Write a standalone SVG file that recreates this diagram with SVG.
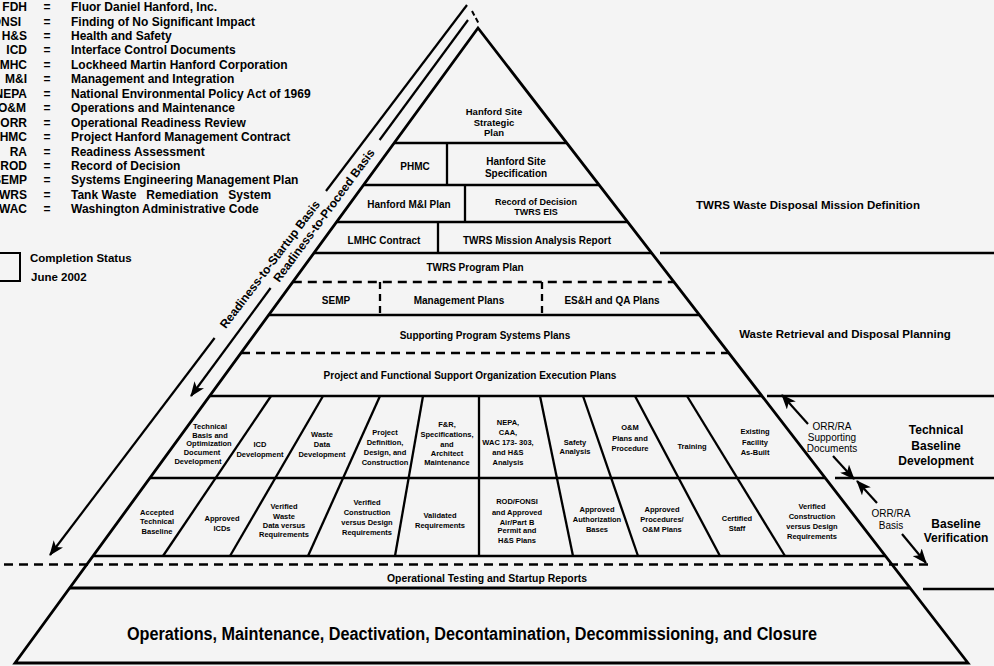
<svg xmlns="http://www.w3.org/2000/svg" width="994" height="666" viewBox="0 0 994 666">
<defs>
<marker id="ah" markerUnits="userSpaceOnUse" markerWidth="16" markerHeight="12" refX="14" refY="6" orient="auto">
<path d="M0,0 L15,6 L0,12 L4,6 z" fill="#000"/>
</marker>
<style>
.ln{stroke:#000;stroke-width:2.3;fill:none}
.thick{stroke:#000;stroke-width:3;fill:none}
.dash{stroke-dasharray:9 6}
.t{font-family:"Liberation Sans",Arial,Helvetica,sans-serif;font-weight:bold;fill:#000;text-anchor:middle}
.n{font-family:"Liberation Sans Narrow","Liberation Sans",Arial,sans-serif}
.c{font-size:7.5px}
.m{font-size:10px}
.leg{font-size:12px;text-anchor:start}
.ab{font-size:12px;text-anchor:end}
.eq{font-size:12px}
.r{font-weight:normal;font-size:10px}
.conn{stroke:#000;stroke-width:2.2;fill:none}
</style>
</defs>
<rect x="0" y="0" width="994" height="666" fill="#f4f4f4"/>

<g id="legend">
<text class="t ab" x="27" y="11">FDH</text><text class="t eq" x="47" y="11">=</text><text class="t leg" x="71" y="11">Fluor Daniel Hanford, Inc.</text>
<text class="t ab" x="21" y="25.5">FONSI</text><text class="t eq" x="47" y="25.5">=</text><text class="t leg" x="71" y="25.5">Finding of No Significant Impact</text>
<text class="t ab" x="27" y="40">H&amp;S</text><text class="t eq" x="47" y="40">=</text><text class="t leg" x="71" y="40">Health and Safety</text>
<text class="t ab" x="27" y="54.4">ICD</text><text class="t eq" x="47" y="54.4">=</text><text class="t leg" x="71" y="54.4">Interface Control Documents</text>
<text class="t ab" x="27" y="68.8">LMHC</text><text class="t eq" x="47" y="68.8">=</text><text class="t leg" x="71" y="68.8">Lockheed Martin Hanford Corporation</text>
<text class="t ab" x="27" y="83.3">M&amp;I</text><text class="t eq" x="47" y="83.3">=</text><text class="t leg" x="71" y="83.3">Management and Integration</text>
<text class="t ab" x="27" y="97.7">NEPA</text><text class="t eq" x="47" y="97.7">=</text><text class="t leg" x="71" y="97.7">National Environmental Policy Act of 1969</text>
<text class="t ab" x="26" y="112.2">O&amp;M</text><text class="t eq" x="47" y="112.2">=</text><text class="t leg" x="71" y="112.2">Operations and Maintenance</text>
<text class="t ab" x="27" y="126.6">ORR</text><text class="t eq" x="47" y="126.6">=</text><text class="t leg" x="71" y="126.6">Operational Readiness Review</text>
<text class="t ab" x="27" y="141.1">PHMC</text><text class="t eq" x="47" y="141.1">=</text><text class="t leg" x="71" y="141.1">Project Hanford Management Contract</text>
<text class="t ab" x="27" y="155.5">RA</text><text class="t eq" x="47" y="155.5">=</text><text class="t leg" x="71" y="155.5">Readiness Assessment</text>
<text class="t ab" x="27" y="170">ROD</text><text class="t eq" x="47" y="170">=</text><text class="t leg" x="71" y="170">Record of Decision</text>
<text class="t ab" x="27" y="184.4">SEMP</text><text class="t eq" x="47" y="184.4">=</text><text class="t leg" x="71" y="184.4">Systems Engineering Management Plan</text>
<text class="t ab" x="27" y="198.9">TWRS</text><text class="t eq" x="47" y="198.9">=</text><text class="t leg" x="71" y="198.9" style="white-space:pre">Tank Waste   Remediation   System</text>
<text class="t ab" x="27" y="213.3">WAC</text><text class="t eq" x="47" y="213.3">=</text><text class="t leg" x="71" y="213.3">Washington Administrative Code</text>
</g>

<g id="completion-status">
<rect x="-12" y="253" width="32" height="28" fill="none" stroke="#000" stroke-width="2"/>
<text class="t" style="font-size:11.5px;text-anchor:start" x="30" y="262">Completion Status</text>
<text class="t" style="font-size:11.5px;text-anchor:start" x="31" y="281">June 2002</text>
</g>

<g id="pyramid-frame">
<polygon points="478,28 968,663 15,663" fill="none" stroke="#000" stroke-width="2.8" stroke-linejoin="miter"/>
<line class="ln" x1="394.2" y1="143" x2="566.7" y2="143"/>
<line class="ln" x1="363.5" y1="185" x2="599.2" y2="185"/>
<line class="ln" x1="336.6" y1="222" x2="627.7" y2="222"/>
<line class="ln" x1="314" y1="253" x2="651.6" y2="253"/>
<line class="ln dash" x1="292.8" y1="282" x2="674" y2="282"/>
<line class="ln" x1="268.7" y1="315" x2="699.5" y2="315"/>
<line class="ln dash" x1="241" y1="353" x2="728.8" y2="353"/>
<line class="ln" x1="209.7" y1="396" x2="762" y2="396"/>
<line class="ln" x1="149.9" y1="478" x2="825.3" y2="478"/>
<line class="ln" x1="93" y1="556" x2="885.5" y2="556"/>
<line class="ln dash" x1="4" y1="564.5" x2="934" y2="564.5"/>
<line class="thick" x1="69.7" y1="588" x2="910.2" y2="588"/>
<line class="ln" x1="447" y1="143" x2="447" y2="185"/>
<line class="ln" x1="465" y1="185" x2="465" y2="222"/>
<line class="ln" x1="438" y1="222" x2="438" y2="253"/>
<line class="ln dash" x1="380" y1="282" x2="380" y2="315" style="stroke-dasharray:7 5"/>
<line class="ln dash" x1="542" y1="282" x2="542" y2="315" style="stroke-dasharray:7 5"/>
<line class="ln" x1="271" y1="396" x2="163" y2="556"/>
<line class="ln" x1="323" y1="396" x2="230" y2="556"/>
<line class="ln" x1="380" y1="396" x2="308" y2="556"/>
<line class="ln" x1="423" y1="396" x2="395" y2="556"/>
<line class="ln" x1="479" y1="396" x2="479" y2="556"/>
<line class="ln" x1="540" y1="396" x2="573" y2="556"/>
<line class="ln" x1="583" y1="396" x2="638" y2="556"/>
<line class="ln" x1="635" y1="396" x2="720" y2="556"/>
<line class="ln" x1="687" y1="396" x2="785" y2="556"/>
<line class="ln" x1="660" y1="253" x2="994" y2="253"/>
<line class="ln" x1="767" y1="396" x2="994" y2="396"/>
<line class="ln" x1="835" y1="478" x2="994" y2="478"/>
<line class="ln" x1="923" y1="589" x2="994" y2="589"/>
<line x1="472" y1="11" x2="479" y2="24" stroke="#000" stroke-width="2" stroke-dasharray="5 3"/>
</g>

<g id="n-strategic"><text class="t" style="font-size:9.5px"><tspan x="494" y="115">Hanford Site</tspan><tspan x="494" y="125.5">Strategic</tspan><tspan x="494" y="136">Plan</tspan></text></g>
<g id="n-phmc"><text class="t m" x="415" y="169.5">PHMC</text></g>
<g id="n-site-spec"><text class="t m"><tspan x="516" y="164.5">Hanford Site</tspan><tspan x="516" y="177">Specification</tspan></text></g>
<g id="n-mi-plan"><text class="t m" x="409" y="207.5">Hanford M&amp;I Plan</text></g>
<g id="n-rod"><text class="t" style="font-size:9px"><tspan x="536" y="205">Record of Decision</tspan><tspan x="536" y="215">TWRS EIS</tspan></text></g>
<g id="n-lmhc"><text class="t m" x="384" y="243.5">LMHC Contract</text></g>
<g id="n-mar"><text class="t m" x="537" y="243.5">TWRS Mission Analysis Report</text></g>
<g id="n-program"><text class="t m" x="475" y="270.5">TWRS Program Plan</text></g>
<g id="n-semp"><text class="t m" x="336" y="304">SEMP</text></g>
<g id="n-mgmt"><text class="t m" x="459" y="304">Management Plans</text></g>
<g id="n-esh"><text class="t m" x="612" y="304">ES&amp;H and QA Plans</text></g>
<g id="n-supporting"><text class="t m" x="485" y="338.5">Supporting Program Systems Plans</text></g>
<g id="n-execution"><text class="t m" x="470" y="378.5">Project and Functional Support Organization Execution Plans</text></g>

<g id="n-tech-basis"><text class="t c"><tspan x="210" y="429">Technical</tspan><tspan x="210" y="437.5">Basis and</tspan><tspan x="209" y="446">Optimization</tspan><tspan x="202" y="454.5">Document</tspan><tspan x="198" y="463.5">Development</tspan></text></g>
<g id="n-icd-dev"><text class="t c"><tspan x="260" y="447">ICD</tspan><tspan x="260" y="457">Development</tspan></text></g>
<g id="n-waste-dev"><text class="t c"><tspan x="322" y="437">Waste</tspan><tspan x="322" y="447">Data</tspan><tspan x="322" y="457">Development</tspan></text></g>
<g id="n-project-def"><text class="t c"><tspan x="385" y="435">Project</tspan><tspan x="385" y="445">Definition,</tspan><tspan x="385" y="455">Design, and</tspan><tspan x="385" y="465">Construction</tspan></text></g>
<g id="n-fr"><text class="t c"><tspan x="447" y="427">F&amp;R,</tspan><tspan x="447" y="437">Specifications,</tspan><tspan x="447" y="447">and</tspan><tspan x="447" y="456">Architect</tspan><tspan x="447" y="465">Maintenance</tspan></text></g>
<g id="n-nepa"><text class="t c"><tspan x="508" y="425">NEPA,</tspan><tspan x="508" y="435">CAA,</tspan><tspan x="508" y="445">WAC 173- 303,</tspan><tspan x="508" y="455">and H&amp;S</tspan><tspan x="508" y="465">Analysis</tspan></text></g>
<g id="n-safety"><text class="t c"><tspan x="575" y="445">Safety</tspan><tspan x="575" y="454">Analysis</tspan></text></g>
<g id="n-om-plans"><text class="t c"><tspan x="630" y="430">O&amp;M</tspan><tspan x="630" y="441">Plans and</tspan><tspan x="630" y="451">Procedure</tspan></text></g>
<g id="n-training"><text class="t c" x="692" y="449">Training</text></g>
<g id="n-existing"><text class="t c"><tspan x="755" y="434">Existing</tspan><tspan x="755" y="445">Facility</tspan><tspan x="755" y="455">As-Built</tspan></text></g>

<g id="n-accepted"><text class="t c"><tspan x="157" y="515">Accepted</tspan><tspan x="157" y="524">Technical</tspan><tspan x="157" y="534">Baseline</tspan></text></g>
<g id="n-approved-icds"><text class="t c"><tspan x="222" y="521">Approved</tspan><tspan x="222" y="531">ICDs</tspan></text></g>
<g id="n-verified-waste"><text class="t c"><tspan x="284" y="509">Verified</tspan><tspan x="284" y="519">Waste</tspan><tspan x="284" y="528">Data versus</tspan><tspan x="284" y="537">Requirements</tspan></text></g>
<g id="n-verified-const1"><text class="t c"><tspan x="367" y="505">Verified</tspan><tspan x="367" y="515">Construction</tspan><tspan x="367" y="525">versus Design</tspan><tspan x="367" y="535">Requirements</tspan></text></g>
<g id="n-validated"><text class="t c"><tspan x="440" y="518">Validated</tspan><tspan x="440" y="528">Requirements</tspan></text></g>
<g id="n-rod-fonsi"><text class="t c"><tspan x="517" y="504">ROD/FONSI</tspan><tspan x="517" y="515">and Approved</tspan><tspan x="517" y="525">Air/Part B</tspan><tspan x="517" y="533">Permit and</tspan><tspan x="517" y="543">H&amp;S Plans</tspan></text></g>
<g id="n-auth-bases"><text class="t c"><tspan x="597" y="512">Approved</tspan><tspan x="597" y="522">Authorization</tspan><tspan x="597" y="532">Bases</tspan></text></g>
<g id="n-procedures"><text class="t c"><tspan x="662" y="512">Approved</tspan><tspan x="662" y="522">Procedures/</tspan><tspan x="662" y="532">O&amp;M Plans</tspan></text></g>
<g id="n-certified"><text class="t c"><tspan x="737" y="521">Certified</tspan><tspan x="737" y="531">Staff</tspan></text></g>
<g id="n-verified-const2"><text class="t c"><tspan x="812" y="509">Verified</tspan><tspan x="812" y="519">Construction</tspan><tspan x="812" y="529">versus Design</tspan><tspan x="812" y="539">Requirements</tspan></text></g>

<g id="n-op-testing"><text class="t n" style="font-size:10px" x="487" y="582" textLength="200" lengthAdjust="spacingAndGlyphs">Operational Testing and Startup Reports</text></g>
<g id="n-operations"><text class="t n" style="font-size:17.5px" x="472" y="640" textLength="690" lengthAdjust="spacingAndGlyphs">Operations, Maintenance, Deactivation, Decontamination, Decommissioning, and Closure</text></g>

<g id="band-mission"><text class="t" style="font-size:11.5px" x="808" y="209">TWRS Waste Disposal Mission Definition</text></g>
<g id="band-planning"><text class="t" style="font-size:11.5px" x="845" y="338">Waste Retrieval and Disposal Planning</text></g>
<g id="band-tech"><text class="t" style="font-size:12px"><tspan x="936" y="434">Technical</tspan><tspan x="936" y="450">Baseline</tspan><tspan x="936" y="465">Development</tspan></text></g>
<g id="band-verif"><text class="t" style="font-size:12px"><tspan x="956" y="528">Baseline</tspan><tspan x="956" y="542">Verification</tspan></text></g>
<g id="n-orr-docs"><text class="t r"><tspan x="832" y="430">ORR/RA</tspan><tspan x="832" y="441">Supporting</tspan><tspan x="832" y="452">Documents</tspan></text></g>
<g id="n-orr-basis"><text class="t r"><tspan x="891" y="517">ORR/RA</tspan><tspan x="891" y="529">Basis</tspan></text></g>

<g id="n-startup-label"><text class="t" style="font-size:12px" transform="translate(270,264.5) rotate(-52.8)" x="0" y="4">Readiness-to-Startup Basis</text></g>
<g id="n-proceed-label"><text class="t" style="font-size:12px" transform="translate(324,215.5) rotate(-53.6)" x="0" y="4">Readiness-to-Proceed Basis</text></g>

<g id="connectors">
<line class="conn" x1="467" y1="5" x2="326" y2="191"/>
<line class="conn" x1="214.6" y1="338" x2="50" y2="555" marker-end="url(#ah)"/>
<line class="conn" x1="468" y1="20" x2="379.6" y2="140"/>
<line class="conn" x1="270.6" y1="288" x2="191" y2="396" marker-end="url(#ah)"/>
<line class="conn" x1="808" y1="424" x2="782" y2="395" marker-end="url(#ah)"/>
<line class="conn" x1="833" y1="456" x2="854" y2="479" marker-end="url(#ah)"/>
<line class="conn" x1="877" y1="503" x2="857" y2="481" marker-end="url(#ah)"/>
<line class="conn" x1="902" y1="534" x2="926" y2="563" marker-end="url(#ah)"/>
</g>
</svg>
